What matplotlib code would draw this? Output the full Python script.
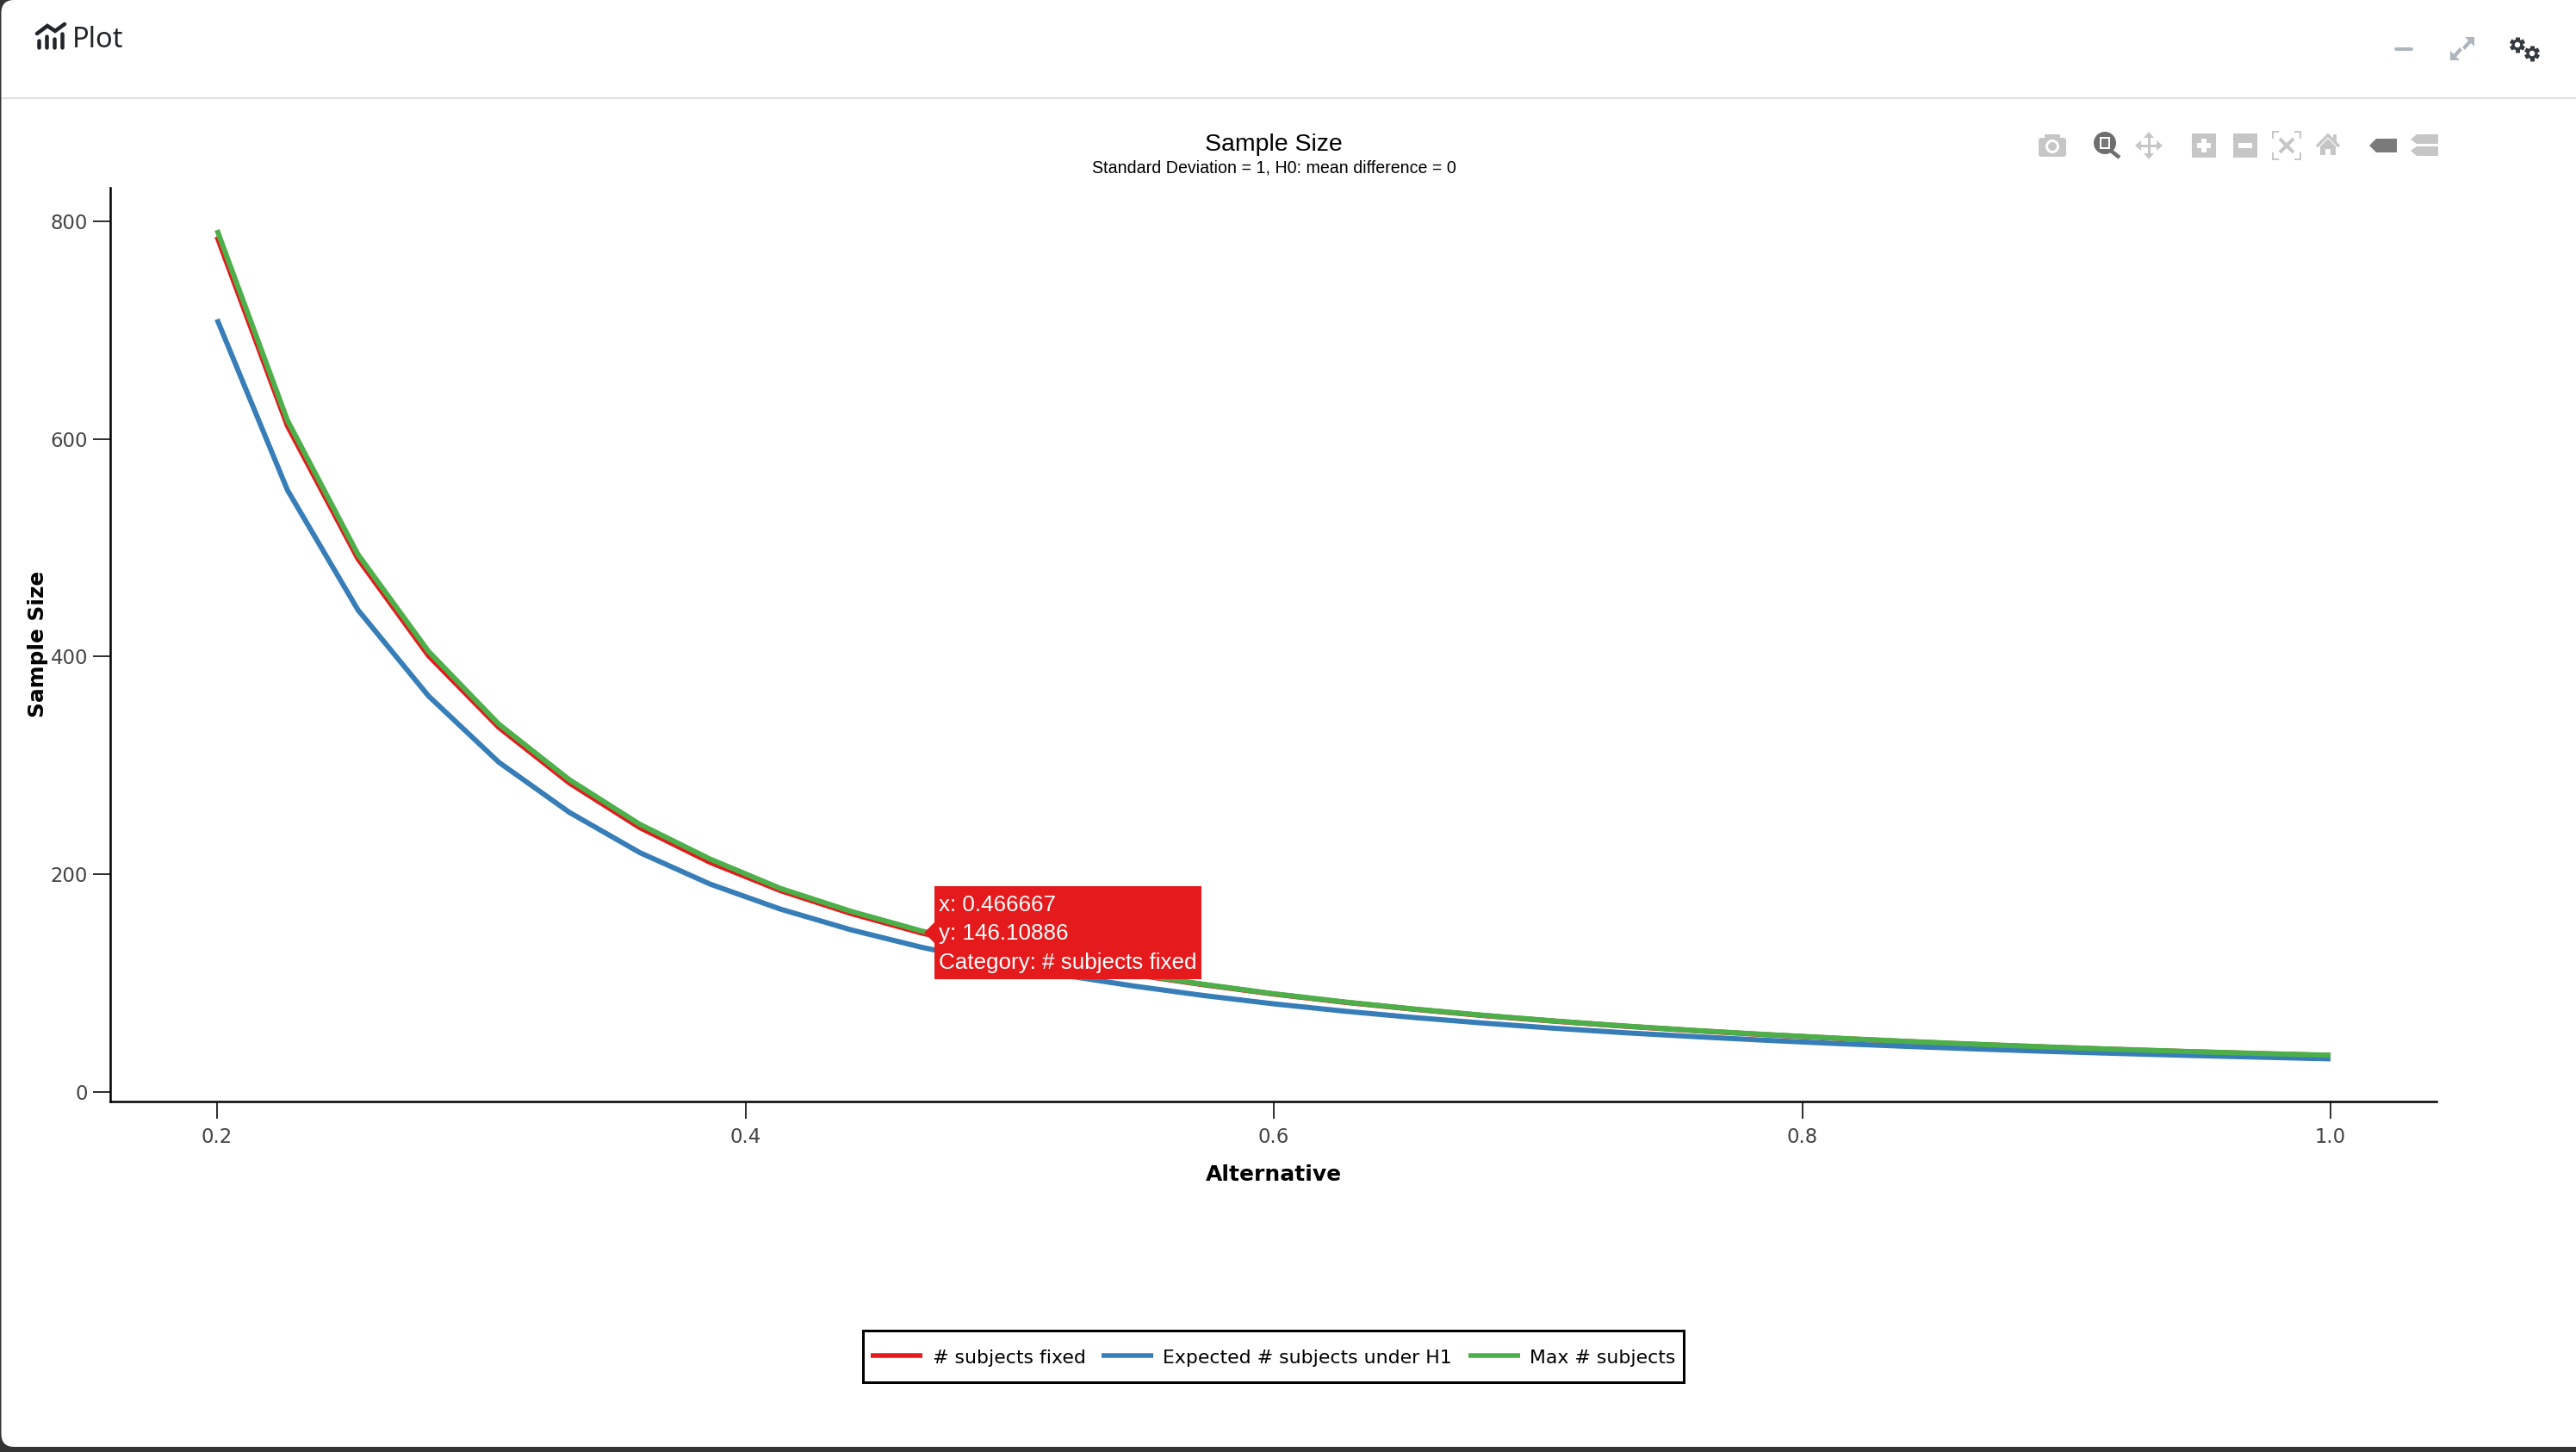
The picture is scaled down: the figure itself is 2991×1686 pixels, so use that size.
import numpy as np
import matplotlib
matplotlib.use('Agg')
import matplotlib.pyplot as plt
from matplotlib.patches import Polygon, Rectangle, Circle, FancyBboxPatch

W, H = 2991, 1686
DPI = 100

#### data
alternative = [0.2, 0.226667, 0.253333, 0.28, 0.306667, 0.333333, 0.36, 0.386667,
               0.413333, 0.44, 0.466667, 0.493333, 0.52, 0.546667, 0.573333, 0.6,
               0.626667, 0.653333, 0.68, 0.706667, 0.733333, 0.76, 0.786667, 0.813333,
               0.84, 0.866667, 0.893333, 0.92, 0.946667, 0.973333, 1.0]
n_fixed = [786, 612, 490, 401, 335, 284, 243, 211, 185, 164, 146.1, 131.5, 119, 108, 98.6, 90,
           82.5, 76, 70.1, 65, 60.4, 56.3, 52.6, 49.3, 46.3, 43.6, 41.2, 39, 37, 35.2, 33.6]
n_expected = [710, 553, 443, 364, 303, 257, 220, 191, 168, 149, 133, 119.5, 107.5, 97.5, 88.7, 81,
              74.3, 68.4, 63.2, 58.5, 54.4, 50.8, 47.5, 44.5, 41.9, 39.5, 37.3, 35.4, 33.6, 32, 30.5]
n_max = [792, 617, 494, 405, 338, 287, 246, 214, 187, 166, 148, 133, 120, 108.6, 99, 90.3,
         82.8, 76.2, 70.4, 65.2, 60.6, 56.5, 52.8, 49.5, 46.5, 43.8, 41.4, 39.2, 37.2, 35.4, 33.8]
series_names = ['# subjects fixed', 'Expected # subjects under H1', 'Max # subjects']
series_colors = ['#e41a1c', '#377eb8', '#4daf4a']
x_ticks = [0.2, 0.4, 0.6, 0.8, 1.0]
y_ticks = [0, 200, 400, 600, 800]
tooltip_lines = ['x: 0.466667', 'y: 146.10886', 'Category: # subjects fixed']

GREY = '#c6c6c6'
SANS = 'Liberation Sans'
TICKS = 'DejaVu Sans'

def px(v):
    # pixels to points
    return v * 72.0 / DPI

fig = plt.figure(figsize=(W / DPI, H / DPI), dpi=DPI, facecolor='#343434')

#### white panel with rounded corners, behind everything
bg = fig.add_axes([0, 0, 1, 1])
bg.set_xlim(0, W)
bg.set_ylim(H, 0)
bg.axis('off')
bg.add_patch(FancyBboxPatch((1.5, 0), W + 40, 1680, boxstyle='round,pad=0,rounding_size=15',
                            facecolor='white', edgecolor='none'))

#### the plot itself
left, right, top, bottom = 128, 2829, 218, 1279
ax = fig.add_axes([left / W, 1 - bottom / H, (right - left) / W, (bottom - top) / H], facecolor='none')
ax.set_xlim(0.2 - 124 / 3067.5, 1.0 + 123 / 3067.5)
ax.set_ylim(-11 / 1.2638, 800 + 39 / 1.2638)
for vals, col, name in zip([n_fixed, n_expected, n_max], series_colors, series_names):
    ax.plot(alternative, vals, color=col, lw=px(6), label=name,
            solid_capstyle='butt', solid_joinstyle='miter')
ax.spines['top'].set_visible(False)
ax.spines['right'].set_visible(False)
ax.spines['left'].set_linewidth(px(2.5))
ax.spines['bottom'].set_linewidth(px(2.5))
ax.set_xticks(x_ticks)
ax.set_yticks(y_ticks)
ax.set_xticklabels(['%.1f' % v for v in x_ticks])
ax.tick_params(axis='x', length=px(20), width=px(2), color='#333333', labelcolor='#444444',
               labelsize=16.4, pad=px(10))
ax.tick_params(axis='y', length=px(20), width=px(2), color='#333333', labelcolor='#444444',
               labelsize=16.4, pad=px(6))
for lab in ax.get_xticklabels() + ax.get_yticklabels():
    lab.set_family(TICKS)

#### everything around it, drawn in pixel coordinates
ov = fig.add_axes([0, 0, 1, 1], facecolor='none')
ov.set_xlim(0, W)
ov.set_ylim(H, 0)
ov.axis('off')

def rect(x0, y0, x1, y1, color, **kw):
    ov.add_patch(Rectangle((x0, y0), x1 - x0, y1 - y0, facecolor=color, edgecolor='none', **kw))

def seg(xs, ys, color, w, cap='round'):
    ov.plot(xs, ys, color=color, lw=px(w), solid_capstyle=cap, solid_joinstyle='miter')

def poly(points, color):
    ov.add_patch(Polygon(points, closed=True, facecolor=color, edgecolor='none'))

# window frame
rect(2, 113, W, 115, '#dedede')

# titles
ov.text(1479, 168, 'Sample Size', family=SANS, fontsize=20.5, color='black', ha='center', va='center')
ov.text(1479, 195, 'Standard Deviation = 1, H0: mean difference = 0', family=SANS, fontsize=14.1,
        color='black', ha='center', va='center')
ov.text(1479, 1364, 'Alternative', family=TICKS, fontsize=18, fontweight='bold', ha='center', va='center')
ov.text(44, 748, 'Sample Size', family=TICKS, fontsize=17.8, fontweight='bold', ha='center', va='center',
        rotation=90)

# header
ov.text(84, 55, 'Plot', family='Noto Sans', fontsize=23.5, color='#212529', ha='left', va='baseline')
seg([43, 55, 64, 75], [39, 30, 36, 28], '#212529', 4.5)
for bx, by in zip([45, 54, 63, 72], [47, 42, 45, 39]):
    seg([bx, bx], [by, 55], '#212529', 4.5)

seg([2782, 2800], [57, 57], '#adb5bd', 4)
poly([(2862, 43), (2873, 43), (2873, 54), (2869, 50), (2862, 58), (2859, 55), (2866, 47)], '#adb5bd')
poly([(2845, 70), (2845, 59), (2849, 63), (2856, 55), (2859, 58), (2852, 66), (2856, 70)], '#adb5bd')
for cx, cy in [(2923, 52), (2940, 62)]:
    for a in np.arange(30, 390, 60):
        ca, sa = np.cos(np.radians(a)), np.sin(np.radians(a))
        seg([cx, cx + 9 * ca], [cy, cy + 9 * sa], '#343a40', 5, 'butt')
    ov.add_patch(Circle((cx, cy), 6.5, facecolor='#343a40', edgecolor='none', zorder=3))
    ov.add_patch(Circle((cx, cy), 3.2, facecolor='white', edgecolor='none', zorder=4))

# modebar: camera, zoom, pan, plus, minus, autoscale, home, tags
ov.add_patch(FancyBboxPatch((2367, 160), 32, 22, boxstyle='round,pad=0,rounding_size=3', facecolor=GREY, edgecolor='none'))
rect(2374, 156, 2392, 162, GREY)
ov.add_patch(Circle((2383, 170), 8, facecolor='white', edgecolor='none'))
ov.add_patch(Circle((2383, 170), 5, facecolor=GREY, edgecolor='none'))

ov.add_patch(Circle((2444, 166), 13, facecolor='#6e6e6e', edgecolor='none'))
rect(2438, 159, 2450, 173, 'white')
rect(2440, 161, 2448, 171, '#7a7a7a')
seg([2451, 2461], [175, 183], '#6e6e6e', 4.5, 'butt')

seg([2495, 2495], [158, 180], GREY, 3, 'butt')
seg([2482, 2508], [169, 169], GREY, 3, 'butt')
poly([(2495, 153), (2489, 160), (2501, 160)], GREY)
poly([(2495, 185), (2489, 178), (2501, 178)], GREY)
poly([(2479, 169), (2486, 163), (2486, 175)], GREY)
poly([(2511, 169), (2504, 163), (2504, 175)], GREY)

rect(2545, 155, 2573, 183, GREY)
rect(2556, 161, 2562, 177, 'white')
rect(2551, 166, 2567, 172, 'white')
rect(2593, 155, 2621, 183, GREY)
rect(2599, 166, 2615, 172, 'white')

for sx, sy in [(2639, 153), (2671, 153), (2639, 185), (2671, 185)]:
    dx = 7 if sx < 2655 else -7
    dy = 8 if sy < 169 else -8
    seg([sx + dx, sx, sx], [sy, sy, sy + dy], GREY, 2, 'butt')
seg([2647, 2663], [161, 177], GREY, 4, 'butt')
seg([2663, 2647], [161, 177], GREY, 4, 'butt')

seg([2690, 2703, 2716], [170, 157, 170], GREY, 3.5, 'butt')
poly([(2694, 170), (2703, 161), (2712, 170), (2712, 180), (2706, 180), (2706, 173), (2700, 173), (2700, 180), (2694, 180)], GREY)
rect(2709, 156, 2713, 165, GREY)

poly([(2751, 169), (2759, 161), (2783, 161), (2783, 177), (2759, 177)], '#7a7a7a')
poly([(2799, 162), (2806, 156), (2831, 156), (2831, 167), (2806, 167)], GREY)
poly([(2799, 175), (2806, 170), (2831, 170), (2831, 181), (2806, 181)], GREY)

# tooltip
rect(1085, 1029, 1395, 1137, series_colors[0], zorder=5)
poly([(1073, 1083), (1085, 1071), (1085, 1095)], series_colors[0])
for ty, line in zip([1051, 1084, 1118], tooltip_lines):
    ov.text(1090, ty, line, family=SANS, fontsize=18.7, color='white', ha='left', va='center', zorder=6)

# legend box
ov.add_patch(Rectangle((1002, 1545), 953, 60, facecolor='white', edgecolor='black', lw=px(3)))
for x0, tx, col, name in zip([1011, 1279, 1705], [1083, 1350, 1776], series_colors, series_names):
    seg([x0, x0 + 60], [1574, 1574], col, 5.5, 'butt')
    ov.text(tx, 1577, name, family=TICKS, fontsize=15.85, color='black', ha='left', va='center')

fig.savefig('out.png', dpi=DPI, facecolor=fig.get_facecolor())
